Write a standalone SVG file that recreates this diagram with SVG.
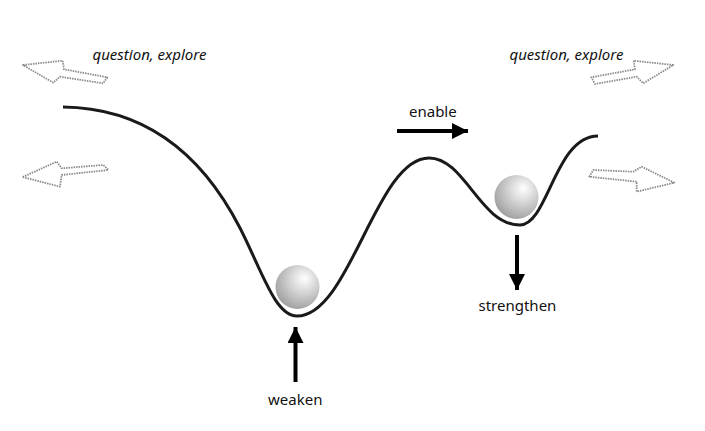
<svg xmlns="http://www.w3.org/2000/svg" width="705" height="431" viewBox="0 0 705 431">
<defs>
<radialGradient id="ball" cx="0.62" cy="0.35" r="0.7" fx="0.66" fy="0.3">
<stop offset="0" stop-color="#ffffff"/>
<stop offset="0.35" stop-color="#dedede"/>
<stop offset="1" stop-color="#9e9e9e"/>
</radialGradient>
<marker id="head" viewBox="0 0 10 10" refX="10" refY="5" markerWidth="4" markerHeight="4" markerUnits="strokeWidth" orient="auto">
<path d="M0,0 L10,5 L0,10 Z" fill="#000"/>
</marker>
</defs>
<style>
.lbl{font-family:"Noto Sans","Open Sans","DejaVu Sans",sans-serif;font-size:15px;fill:#111;}
.it{font-style:italic;font-size:15px;}
.hollow{fill:#fff;stroke:#8a8a8a;stroke-width:1.8;stroke-dasharray:1.5 1;stroke-linejoin:round;}
.push{stroke:#000;stroke-width:4;fill:none;}
.ballc{fill:url(#ball);}
</style>
<rect width="705" height="431" fill="#fff"/>
<g id="landscape">
<path d="M63,107 C150,108 205,160 240,228 C262,271 275,316 297,316 C350,316 376,158 429,158 C465,158 480,225 520,225 C548,225 555,136 598,136" fill="none" stroke="#1a1a1a" stroke-width="3"/>
</g>
<g id="ball-left"><circle class="ballc" cx="297.5" cy="287" r="22"/></g>
<g id="ball-right"><circle class="ballc" cx="516.5" cy="197" r="22"/></g>
<g id="explore-arrows">
<path class="hollow" d="M23,65 L62.7,60.7 L64,69.3 L107.3,77.3 L103.3,83.3 L60,76.7 L53.3,82.7 Z"/>
<path class="hollow" d="M22.7,177 L56.7,161.7 L61.7,168.3 L103.3,165 L108.3,170 L61.7,175 L60,186.7 Z"/>
<path class="hollow" d="M673.3,65 L633.6,60.7 L635,69.3 L591.3,77.3 L595,84 L636.7,76.7 L643.3,83.3 Z"/>
<path class="hollow" d="M674.3,182.7 L641.7,166.7 L633.3,171.7 L593.3,170 L589.3,176.7 L636.7,181.7 L636.7,191.7 Z"/>
</g>
<g id="connectors">
<path class="push" d="M397,131 L468,131" marker-end="url(#head)"/>
<path class="push" d="M517,235 L517,290" marker-end="url(#head)"/>
<path class="push" d="M295.5,382 L295.5,327" marker-end="url(#head)"/>
</g>
<g id="labels">
<text class="lbl it" x="92.5" y="59.5">question, explore</text>
<text class="lbl it" x="509.5" y="59.5">question, explore</text>
<text class="lbl" x="409" y="117">enable</text>
<text class="lbl" x="478.5" y="311">strengthen</text>
<text class="lbl" x="268" y="405">weaken</text>
</g>
</svg>
